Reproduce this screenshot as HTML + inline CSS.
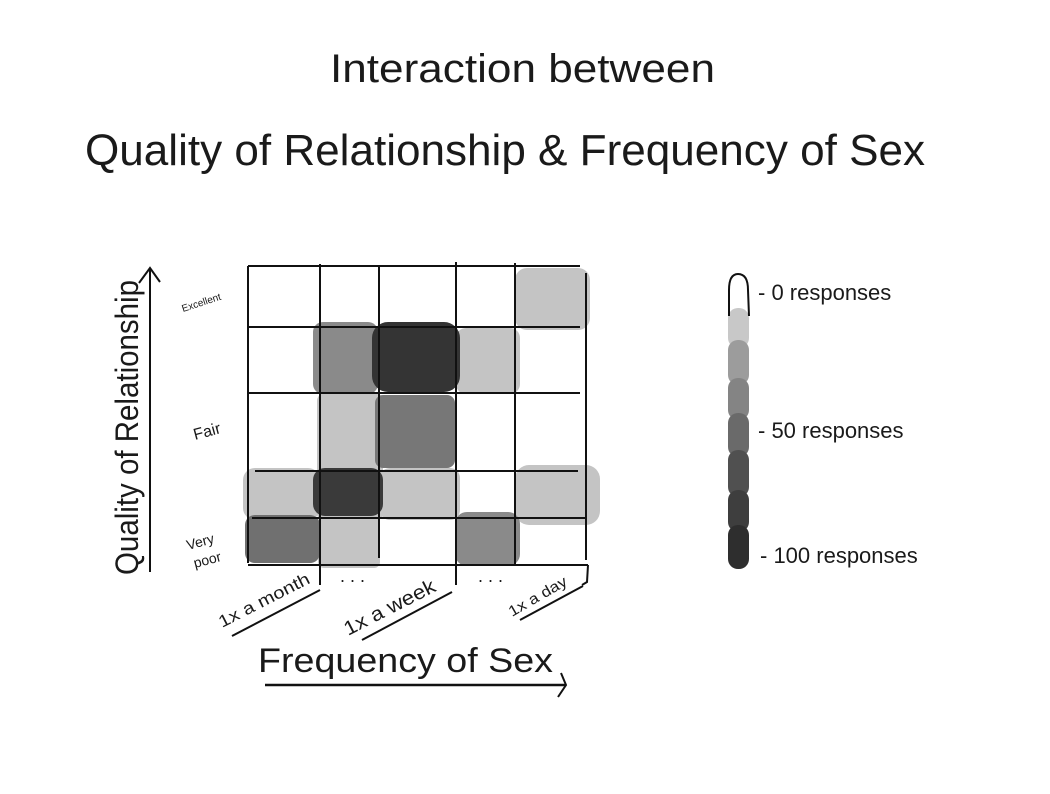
<!DOCTYPE html>
<html><head><meta charset="utf-8"><style>
html,body{margin:0;padding:0;background:#fff;}
svg{display:block;}
text{font-family:"Liberation Sans",sans-serif;fill:#1a1a1a;}
</style></head><body>
<svg width="1050" height="794" viewBox="0 0 1050 794" xmlns="http://www.w3.org/2000/svg">
<rect width="1050" height="794" fill="#fff"/>
<text x="330" y="82" font-size="40" textLength="385" lengthAdjust="spacingAndGlyphs">Interaction between</text>
<text x="85" y="165" font-size="44" textLength="840" lengthAdjust="spacingAndGlyphs">Quality of Relationship  &amp;  Frequency of Sex</text>

<g>
<rect x="515" y="268" width="75" height="62" rx="12" fill="#c4c4c4"/>
<rect x="313" y="322" width="65" height="72" rx="10" fill="#8a8a8a"/>
<rect x="456" y="328" width="64" height="66" rx="10" fill="#c4c4c4"/>
<rect x="317" y="393" width="66" height="128" rx="8" fill="#c4c4c4"/>
<rect x="380" y="468" width="80" height="52" rx="10" fill="#c4c4c4"/>
<rect x="243" y="468" width="77" height="52" rx="12" fill="#c4c4c4"/>
<rect x="515" y="465" width="85" height="60" rx="14" fill="#c4c4c4"/>
<rect x="318" y="518" width="62" height="50" rx="6" fill="#c4c4c4"/>
<rect x="375" y="395" width="80" height="73" rx="8" fill="#777"/>
<rect x="372" y="322" width="88" height="70" rx="16" fill="#343434"/>
<rect x="313" y="468" width="70" height="48" rx="12" fill="#3a3a3a"/>
<rect x="245" y="515" width="75" height="48" rx="10" fill="#707070"/>
<rect x="455" y="512" width="65" height="54" rx="12" fill="#8a8a8a"/>
</g>
<g stroke="#111" stroke-width="2" fill="none">
<line x1="248" y1="266" x2="580" y2="266"/>
<line x1="247" y1="327" x2="580" y2="327"/>
<line x1="248" y1="393" x2="580" y2="393"/>
<line x1="255" y1="471" x2="578" y2="471"/>
<line x1="252" y1="518" x2="586" y2="518"/>
<line x1="248" y1="565" x2="588" y2="565"/>
<line x1="248" y1="266" x2="248" y2="563"/>
<line x1="320" y1="264" x2="320" y2="585"/>
<line x1="379" y1="266" x2="379" y2="558"/>
<line x1="456" y1="262" x2="456" y2="585"/>
<line x1="515" y1="263" x2="515" y2="566"/>
<line x1="586" y1="273" x2="586" y2="560"/>
<path d="M588 565 L587 582 L582 585"/>
<line x1="150" y1="268" x2="150" y2="572"/>
<path d="M139 283 L150 268 L160 282"/>
<line x1="265" y1="685" x2="565" y2="685" stroke-width="2.5"/>
<path d="M561 673 L566 685 L558 697"/>
<line x1="232" y1="636" x2="320" y2="590"/>
<line x1="362" y1="640" x2="452" y2="592"/>
<line x1="520" y1="620" x2="583" y2="586"/>
</g>
<text x="340" y="582" font-size="18">. . .</text>
<text x="478" y="582" font-size="18">. . .</text>
<text font-size="10" fill="#444" transform="translate(183,312) rotate(-18)">Excellent</text>
<text font-size="16" fill="#555" transform="translate(195,440) rotate(-15)">Fair</text>
<text font-size="14" fill="#555" transform="translate(188,550) rotate(-15)">Very</text>
<text font-size="14" fill="#555" transform="translate(195,568) rotate(-15)">poor</text>
<text font-size="17" fill="#333" transform="translate(222,628) rotate(-27)" textLength="100" lengthAdjust="spacingAndGlyphs">1x a month</text>
<text font-size="20" fill="#333" transform="translate(348,636) rotate(-27)" textLength="100" lengthAdjust="spacingAndGlyphs">1x a week</text>
<text font-size="15" fill="#333" transform="translate(512,617) rotate(-30)" textLength="65" lengthAdjust="spacingAndGlyphs">1x a day</text>
<text x="258" y="672" font-size="34" textLength="295" lengthAdjust="spacingAndGlyphs">Frequency of Sex</text>
<text font-size="32" transform="translate(138,575) rotate(-90)" textLength="295" lengthAdjust="spacingAndGlyphs">Quality of Relationship</text>
<g>
<rect x="728" y="308" width="21" height="40" rx="10" fill="#c8c8c8"/>
<rect x="728" y="340" width="21" height="45" rx="10" fill="#9c9c9c"/>
<rect x="728" y="378" width="21" height="42" rx="10" fill="#848484"/>
<rect x="728" y="413" width="21" height="44" rx="10" fill="#6a6a6a"/>
<rect x="728" y="450" width="21" height="47" rx="10" fill="#505050"/>
<rect x="728" y="490" width="21" height="42" rx="10" fill="#3e3e3e"/>
<rect x="728" y="525" width="21" height="44" rx="10" fill="#2e2e2e"/>
<path d="M729 316 L729 290 Q729 274 738 274 Q748 274 748 290 L749 316" stroke="#111" stroke-width="2" fill="none"/>
</g>
<text x="758" y="300" font-size="22">- 0 responses</text>
<text x="758" y="438" font-size="22">- 50 responses</text>
<text x="760" y="563" font-size="22">- 100 responses</text>
</svg>
</body></html>
